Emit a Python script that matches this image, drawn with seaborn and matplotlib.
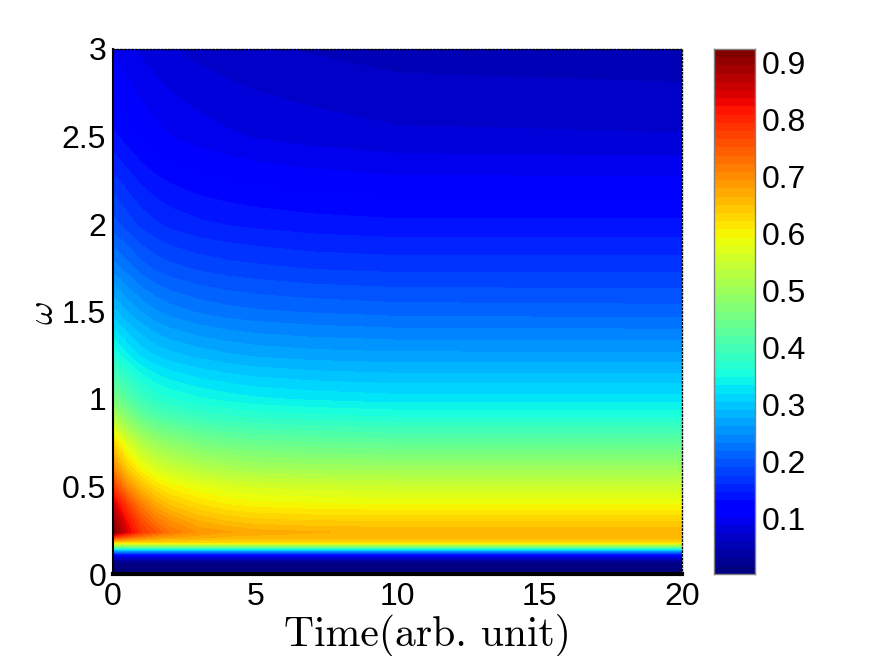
import numpy as np
import pandas as pd
import matplotlib
matplotlib.use("Agg")
import matplotlib.pyplot as plt
import seaborn as sns

# values, one list per omega row
times = [0, 0.5, 1, 1.5, 2, 3, 4, 5, 7, 10, 20]
omegas = [0, 0.06, 0.10, 0.12, 0.14, 0.16, 0.18, 0.21, 0.24, 0.30, 0.40, 0.50, 0.60, 0.75,
          0.90, 1.0, 1.25, 1.5, 1.75, 2.0, 2.5, 3.0]

w_000 = [.002] * 11
w_006 = [.01] * 11
w_010 = [.08] * 11
w_012 = [.18] * 11
w_014 = [.32] * 11
w_016 = [.48] * 11
w_018 = [.62] * 11
w_021 = [.78, .74, .71, .69, .68, .67, .66, .66, .66, .66, .66]
w_024 = [.92, .84, .78, .75, .72, .69, .68, .67, .665, .66, .66]
w_030 = [.90, .82, .76, .72, .695, .665, .65, .642, .637, .635, .635]
w_040 = [.85, .77, .71, .67, .645, .62, .605, .598, .593, .59, .59]
w_050 = [.78, .70, .65, .62, .60, .58, .567, .56, .555, .55, .55]
w_060 = [.71, .64, .595, .565, .55, .528, .515, .508, .503, .50, .50]
w_075 = [.63, .565, .52, .495, .48, .458, .447, .44, .435, .43, .43]
w_090 = [.52, .47, .435, .415, .403, .387, .378, .372, .366, .36, .36]
w_100 = [.46, .42, .39, .372, .362, .35, .342, .336, .33, .325, .325]
w_125 = [.36, .335, .315, .303, .295, .285, .278, .273, .268, .265, .265]
w_150 = [.295, .275, .26, .248, .24, .23, .224, .22, .216, .212, .21]
w_175 = [.24, .225, .21, .20, .194, .186, .181, .178, .173, .17, .17]
w_200 = [.195, .182, .17, .162, .156, .149, .145, .142, .138, .135, .135]
w_250 = [.135, .125, .115, .108, .103, .096, .091, .087, .082, .077, .075]
w_300 = [.10, .092, .085, .08, .075, .069, .065, .062, .058, .053, .05]

x_ticks = [0, 5, 10, 15, 20]
y_ticks = [0, 0.5, 1, 1.5, 2, 2.5, 3]
y_tick_labels = ["0", "0.5", "1", "1.5", "2", "2.5", "3"]
cbar_ticks = [0.1, 0.2, 0.3, 0.4, 0.5, 0.6, 0.7, 0.8, 0.9]

vmin, vmax = 0.002, 0.923

sns.set_theme(style="white")
plt.rcParams["font.family"] = ["Liberation Sans", "DejaVu Sans"]
plt.rcParams["mathtext.fontset"] = "cm"

z = np.array([w_000, w_006, w_010, w_012, w_014, w_016, w_018, w_021, w_024, w_030, w_040,
              w_050, w_060, w_075, w_090, w_100, w_125, w_150, w_175, w_200, w_250, w_300])
jet64 = plt.get_cmap("jet", 64)

W, H = 872, 656
fig = plt.figure(figsize=(W / 100, H / 100), dpi=100)
ax = fig.add_axes([113 / W, (H - 574) / H, 569 / W, 525 / H])
cax = fig.add_axes([714 / W, (H - 574) / H, 41 / W, 525 / H])

# --------- main panel ---------
ax.contourf(times, omegas, z, levels=np.linspace(vmin, vmax, 65), cmap=jet64,
            vmin=vmin, vmax=vmax, antialiased=False)
ax.set_xlim(0, 20)
ax.set_ylim(0, 3)
ax.set_xticks(x_ticks)
ax.set_yticks(y_ticks)
ax.set_yticklabels(y_tick_labels)
ax.tick_params(length=0, labelsize=23, colors="black")
ax.tick_params(axis="x", pad=6)
ax.tick_params(axis="y", pad=5)
ax.set_xlabel("Time(arb. unit)", family="cmr10", fontsize=30, color="black")
ax.xaxis.set_label_coords(0.552, -0.076)
ax.set_ylabel(r"$\omega$", fontsize=26, color="black")
ax.yaxis.set_label_coords(-0.091, 0.497)
ax.spines["bottom"].set_linewidth(3)
ax.spines["bottom"].set_color("black")
ax.spines["left"].set_linewidth(1.5)
ax.spines["left"].set_color("black")
for side in ["top", "right"]:
    ax.spines[side].set_linestyle(":")
    ax.spines[side].set_linewidth(1)
    ax.spines[side].set_color("black")

# --------- colour bar as a one column heatmap ---------
levels = np.linspace(vmax, vmin, 64)
bar = pd.DataFrame({"v": levels})
sns.heatmap(bar, ax=cax, cmap=jet64, vmin=vmin, vmax=vmax, cbar=False,
            xticklabels=False, yticklabels=False)
pos = [(vmax - t) / (vmax - vmin) * 64 for t in cbar_ticks]
cax.set_yticks(pos)
cax.set_yticklabels(["%.1f" % t for t in cbar_ticks], rotation=0)
cax.yaxis.tick_right()
cax.tick_params(axis="y", left=True, right=True, direction="in", length=5, width=1,
                color="black", labelsize=23, labelcolor="black", pad=5)
for s in cax.spines.values():
    s.set_visible(True)
    s.set_linewidth(1)
    s.set_color("#808080")

fig.savefig("out.png", dpi=100)
